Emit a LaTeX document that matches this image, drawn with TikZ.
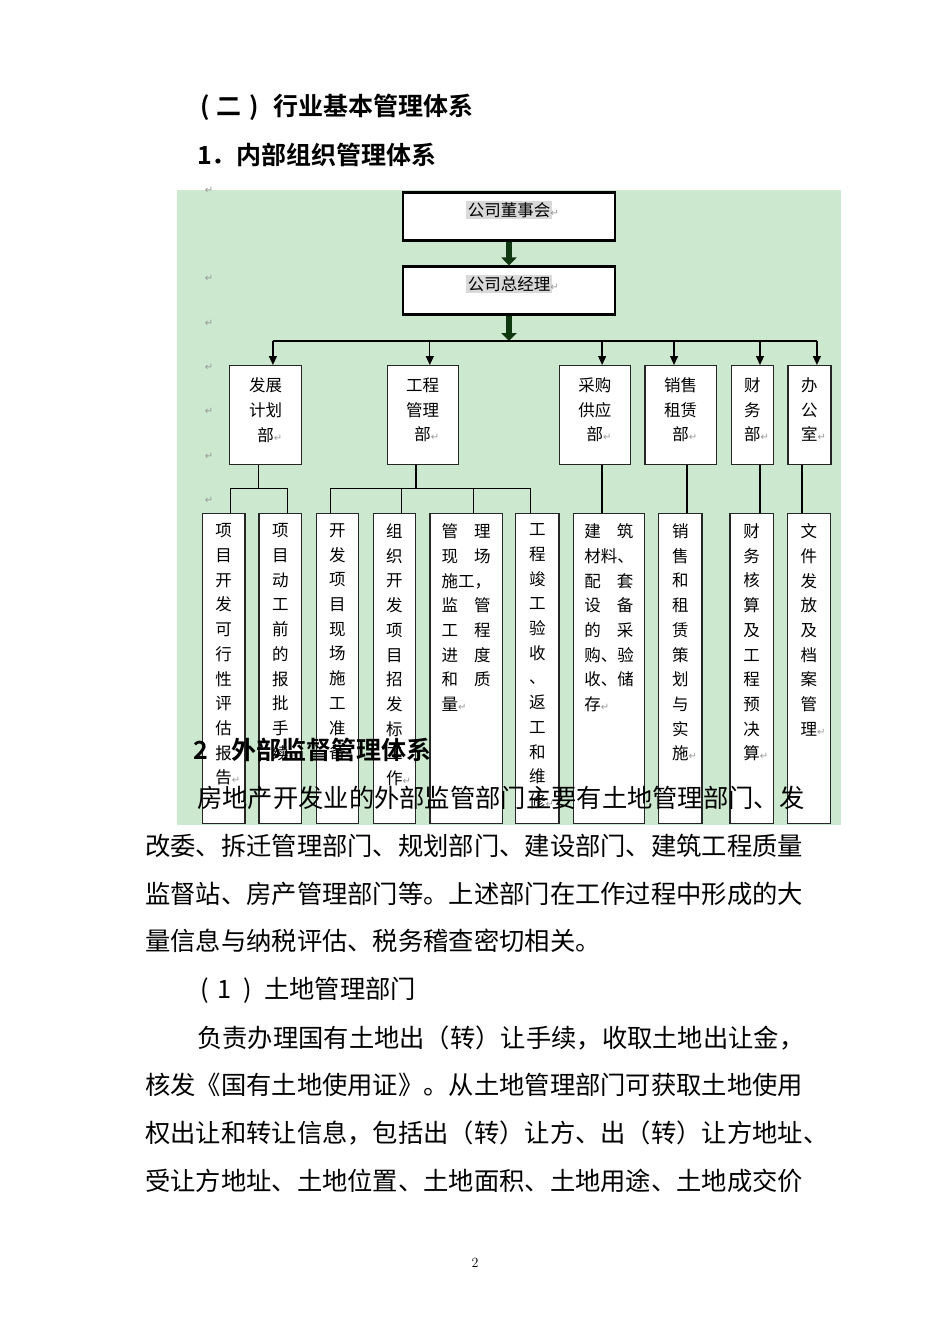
\documentclass[tikz,border=0pt]{standalone}
\usepackage{fontspec}
\usepackage{tikz}
\usetikzlibrary{arrows.meta}
\usetikzlibrary{positioning}
\usetikzlibrary{calc}
\newfontfamily\cjk{Noto Sans CJK SC}
\newfontfamily\cjkb{Noto Sans CJK SC Bold}
\newfontfamily\symf{DejaVu Sans}
\definecolor{eyegreen}{RGB}{204,232,207}
\definecolor{darkarrow}{RGB}{16,56,16}
\newcommand{\retm}{{\symf\fontsize{10}{10}\selectfont\color{black!40}↵}}
\tikzstyle{topbox}=[draw,fill=white,line width=2.7pt,minimum width=212pt,minimum height=48pt,inner sep=0pt]
\tikzstyle{deptbox}=[draw=black!85,fill=white,line width=1.2pt,anchor=north west,inner sep=0pt,minimum height=99pt]
\tikzstyle{jobbox}=[draw=black!85,fill=white,line width=1.2pt,anchor=north west,inner sep=0pt,minimum height=310pt]
\tikzstyle{boxtxt}=[inner sep=0pt,align=center,font=\cjk\fontsize{16.5}{24.7}\selectfont]
\tikzstyle{hltxt}=[inner sep=1.5pt,fill=black!15,font=\cjk\fontsize{16.5}{16.5}\selectfont]
\tikzstyle{bodytxt}=[inner sep=0pt,anchor=west,font=\cjk\fontsize{25.3}{25.3}\selectfont]
\tikzstyle{headtxt}=[inner sep=0pt,anchor=west,font=\cjkb\fontsize{25}{25}\selectfont]
\tikzstyle{bigarr}=[darkarrow,line width=6.5pt,-{Triangle[width=15pt,length=8pt]}]
\tikzstyle{arr}=[line width=1.3pt,-{Triangle[width=8pt,length=9pt]}]
\tikzstyle{conn}=[line width=1.3pt]

\begin{document}
\begin{tikzpicture}[x=1pt,y=-1pt]
\fill[white] (0,0) rectangle (950,1344);
\useasboundingbox (0,0) rectangle (950,1344);
\fill[eyegreen] (177,189.5) rectangle (841,825);

\foreach \y [count=\i] in {190,278,323,367,411,456,500}{\node[inner sep=0pt] (pm\i) at (209,\y) {\retm};}

\node[topbox] (board) at (509,216.7) {};
\node[hltxt] (boardtx) at (509,210) {公司董事会\rlap{\retm}};
\node[topbox] (gm) at (509,290.8) {};
\node[hltxt] (gmtx) at (509,284) {公司总经理\rlap{\retm}};
\coordinate (bus) at (509,341);
\coordinate (sub) at (0,488.3);
\draw[bigarr] (board) -- (gm);
\draw[bigarr] (gm) -- (bus);

\foreach \n/\x/\w/\a/\b in {dev/229/72/.6/.4, eng/386.5/71/.6/.41, pur/558.5/71.5/.6/.6, sal/644.3/71.3/.41/.59, fin/730.8/41.7/.68/.68, off/787.3/43/.67/.335}{
  \node[deptbox,minimum width=\w pt] (\n) at (\x,365) {};
  \coordinate (t\n) at ($(\n.north west)!\a!(\n.north east)$);
  \coordinate (b\n) at ($(\n.south west)!\b!(\n.south east)$);
  \draw[arr] (t\n |- bus) -- (t\n);
}
\draw[conn] (tdev |- bus) -- (toff |- bus);

\foreach \n/\t in {dev/{发展\\计划\\部}, eng/{工程\\管理\\部}, pur/{采购\\供应\\部}, sal/{销售\\租赁\\部}, fin/{财\\务\\部}, off/{办\\公\\室}}
  \node[boxtxt,anchor=north] (\n tx) at ($(\n.north)+(0,12.5)$) {\t\rlap{\retm}};

\foreach \n/\x/\w/\r in {ja/201.7/42.6/.66, jb/258.3/42.7/.66, jc/315.7/42/.34, jd/372.7/42.3/.66, je/429.3/72.4/.6, jf/515/43.3/.35, jg/572.7/71.3/.406, jh/658/43.3/.66, ji/729.3/43.4/.67, jj/786.7/43.3/.35}{
  \node[jobbox,minimum width=\w pt] (\n) at (\x,513) {};
  \coordinate (t\n) at ($(\n.north west)!\r!(\n.north east)$);
}

\draw[conn] (bdev) -- (bdev |- sub);
\draw[conn] (tja |- sub) -- (tjb |- sub);
\foreach \j in {ja,jb} \draw[conn] (t\j |- sub) -- (t\j);
\draw[conn] (beng) -- (beng |- sub);
\draw[conn] (tjc |- sub) -- (tjf |- sub);
\foreach \j in {jc,jd,je,jf} \draw[conn] (t\j |- sub) -- (t\j);
\draw[conn] (bpur) -- (bpur |- tjg);
\draw[conn] (bsal) -- (bsal |- tjh);
\draw[conn] (bfin) -- (bfin |- tji);
\draw[conn] (boff) -- (boff |- tjj);

\foreach \n/\t in {ja/{项\\目\\开\\发\\可\\行\\性\\评\\估\\报\\告}, jb/{项\\目\\动\\工\\前\\的\\报\\批\\手\\续}, jc/{开\\发\\项\\目\\现\\场\\施\\工\\准\\备}, jd/{组\\织\\开\\发\\项\\目\\招\\发\\标\\工\\作}, jf/{工\\程\\竣\\工\\验\\收\\、\\返\\工\\和\\维\\修}, jh/{销\\售\\和\\租\\赁\\策\\划\\与\\实\\施}, ji/{财\\务\\核\\算\\及\\工\\程\\预\\决\\算}, jj/{文\\件\\发\\放\\及\\档\\案\\管\\理}}
  \node[boxtxt,anchor=north] (\n tx) at ($(\n.north)+(0,10.5)$) {\t\rlap{\retm}};
\node[boxtxt,text width=49pt,align=left,anchor=north] (jetx) at ($(je.north)+(0,10.5)$) {管\hfill 理\\现\hfill 场\\施工，\\监\hfill 管\\工\hfill 程\\进\hfill 度\\和\hfill 质\\量\rlap{\retm}};
\node[boxtxt,text width=49pt,align=left,anchor=north] (jgtx) at ($(jg.north)+(0,10.5)$) {建\hfill 筑\\材料、\\配\hfill 套\\设\hfill 备\\的\hfill 采\\购、验\\收、储\\存\rlap{\retm}};

\node[headtxt] (h1) at (200,107) {(\hspace{7pt}二\hspace{8pt})\hspace{14pt}行业基本管理体系};
\node[headtxt] (h2) at (197,155) {1．内部组织管理体系};
\node[headtxt] (h3) at (193,750) {2\hspace{24pt}外部监督管理体系};

\foreach \y/\x/\t in {798/197/{房地产开发业的外部监管部门主要有土地管理部门、发}, 846/145/{改委、拆迁管理部门、规划部门、建设部门、建筑工程质量}, 894/145/{监督站、房产管理部门等。上述部门在工作过程中形成的大}, 941/145/{量信息与纳税评估、税务稽查密切相关。}, 990/200/{(\hspace{9pt}1\hspace{12pt})\hspace{12pt}土地管理部门}, 1038/197/{负责办理国有土地出（转）让手续，收取土地出让金，}, 1085/145/{核发《国有土地使用证》。从土地管理部门可获取土地使用}, 1133/145/{权出让和转让信息，包括出（转）让方、出（转）让方地址、}, 1181/145/{受让方地址、土地位置、土地面积、土地用途、土地成交价}}
  \node[bodytxt] (l\y) at (\x,\y) {\t};

\node[inner sep=0pt] (pgno) at (475,1263) {\fontsize{14}{14}\selectfont 2};
\end{tikzpicture}
\end{document}
